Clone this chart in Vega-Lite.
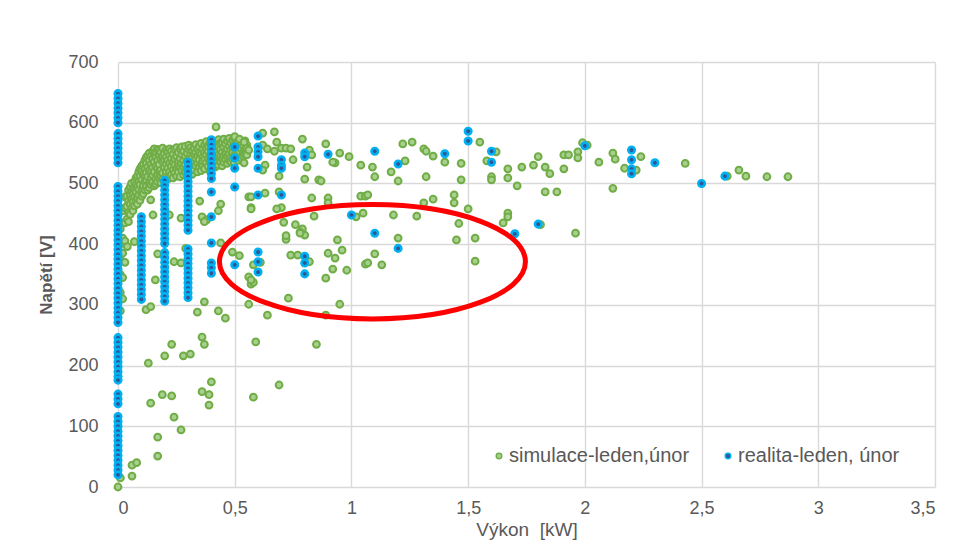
{
  "$schema": "https://vega.github.io/schema/vega-lite/v6.json",
  "width": 817,
  "height": 425,
  "autosize": {"type": "none"},
  "padding": {"left": 118, "top": 62, "right": 23, "bottom": 64},
  "background": "white",
  "config": {
    "view": {"stroke": null},
    "font": "Liberation Sans",
    "axis": {
      "gridColor": "#D9D9D9",
      "gridWidth": 1.4,
      "domain": false,
      "ticks": false,
      "labelColor": "#595959",
      "labelFontSize": 18,
      "labelFont": "Liberation Sans",
      "titleColor": "#595959",
      "titleFontSize": 17,
      "titleFont": "Liberation Sans"
    }
  },
  "datasets": {
    "sim": [
      {"x":0.01,"y":290},{"x":0.01,"y":320},{"x":0.01,"y":350},{"x":0.01,"y":375},{"x":0.01,"y":400},{"x":0.01,"y":425},
      {"x":0.02,"y":310},{"x":0.02,"y":345},{"x":0.02,"y":385},{"x":0.02,"y":410},{"x":0.02,"y":435},{"x":0.02,"y":455},
      {"x":0.03,"y":370},{"x":0.03,"y":405},{"x":0.03,"y":435},{"x":0.03,"y":460},{"x":0.03,"y":478},
      {"x":0.038,"y":441},{"x":0.038,"y":462},{"x":0.038,"y":479},
      {"x":0.045,"y":452},{"x":0.045,"y":437},{"x":0.045,"y":471},{"x":0.045,"y":489},
      {"x":0.052,"y":466},{"x":0.052,"y":481},{"x":0.052,"y":449},{"x":0.052,"y":494},
      {"x":0.058,"y":459},{"x":0.058,"y":487},{"x":0.058,"y":474},{"x":0.058,"y":500},
      {"x":0.064,"y":470},{"x":0.064,"y":492},{"x":0.064,"y":455},{"x":0.064,"y":483},
      {"x":0.071,"y":478},{"x":0.071,"y":503},{"x":0.071,"y":463},{"x":0.071,"y":490},
      {"x":0.077,"y":486},{"x":0.077,"y":471},{"x":0.077,"y":509},{"x":0.077,"y":497},
      {"x":0.083,"y":494},{"x":0.083,"y":477},{"x":0.083,"y":512},{"x":0.083,"y":466},
      {"x":0.089,"y":481},{"x":0.089,"y":503},{"x":0.089,"y":519},{"x":0.089,"y":490},
      {"x":0.094,"y":472},{"x":0.094,"y":498},{"x":0.094,"y":511},{"x":0.094,"y":524},
      {"x":0.102,"y":487},{"x":0.102,"y":479},{"x":0.102,"y":506},{"x":0.102,"y":521},{"x":0.102,"y":529},
      {"x":0.108,"y":496},{"x":0.108,"y":515},{"x":0.108,"y":483},{"x":0.108,"y":532},
      {"x":0.115,"y":503},{"x":0.115,"y":524},{"x":0.115,"y":489},{"x":0.115,"y":538},{"x":0.115,"y":512},
      {"x":0.121,"y":495},{"x":0.121,"y":518},{"x":0.121,"y":533},{"x":0.121,"y":506},{"x":0.121,"y":543},
      {"x":0.127,"y":489},{"x":0.127,"y":527},{"x":0.127,"y":511},{"x":0.127,"y":546},
      {"x":0.134,"y":500},{"x":0.134,"y":538},{"x":0.134,"y":521},{"x":0.134,"y":493},{"x":0.134,"y":550},
      {"x":0.141,"y":509},{"x":0.141,"y":531},{"x":0.141,"y":545},{"x":0.141,"y":498},{"x":0.141,"y":518},
      {"x":0.148,"y":526},{"x":0.148,"y":502},{"x":0.148,"y":541},{"x":0.148,"y":553},{"x":0.148,"y":514},
      {"x":0.155,"y":496},{"x":0.155,"y":519},{"x":0.155,"y":535},{"x":0.155,"y":548},{"x":0.155,"y":557},
      {"x":0.162,"y":507},{"x":0.162,"y":528},{"x":0.162,"y":544},{"x":0.162,"y":499},{"x":0.162,"y":552},
      {"x":0.169,"y":515},{"x":0.169,"y":538},{"x":0.169,"y":503},{"x":0.169,"y":525},{"x":0.169,"y":556},
      {"x":0.176,"y":531},{"x":0.176,"y":509},{"x":0.176,"y":547},{"x":0.176,"y":520},{"x":0.176,"y":554},
      {"x":0.183,"y":501},{"x":0.183,"y":522},{"x":0.183,"y":540},{"x":0.183,"y":551},{"x":0.183,"y":512},
      {"x":0.191,"y":517},{"x":0.191,"y":536},{"x":0.191,"y":507},{"x":0.191,"y":545},{"x":0.191,"y":558},
      {"x":0.198,"y":526},{"x":0.198,"y":504},{"x":0.198,"y":549},{"x":0.198,"y":539},
      {"x":0.206,"y":513},{"x":0.206,"y":532},{"x":0.206,"y":555},{"x":0.206,"y":520},{"x":0.206,"y":543},
      {"x":0.213,"y":507},{"x":0.213,"y":538},{"x":0.213,"y":525},{"x":0.213,"y":552},
      {"x":0.221,"y":519},{"x":0.221,"y":546},{"x":0.221,"y":510},{"x":0.221,"y":533},{"x":0.221,"y":557},
      {"x":0.228,"y":528},{"x":0.228,"y":541},{"x":0.228,"y":514},{"x":0.228,"y":553},
      {"x":0.236,"y":509},{"x":0.236,"y":535},{"x":0.236,"y":548},{"x":0.236,"y":522},
      {"x":0.243,"y":517},{"x":0.243,"y":530},{"x":0.243,"y":556},{"x":0.243,"y":541},
      {"x":0.251,"y":525},{"x":0.251,"y":512},{"x":0.251,"y":545},{"x":0.251,"y":559},
      {"x":0.258,"y":535},{"x":0.258,"y":519},{"x":0.258,"y":551},{"x":0.258,"y":528},
      {"x":0.266,"y":511},{"x":0.266,"y":541},{"x":0.266,"y":557},{"x":0.266,"y":526},
      {"x":0.273,"y":522},{"x":0.273,"y":548},{"x":0.273,"y":533},{"x":0.273,"y":560},
      {"x":0.281,"y":514},{"x":0.281,"y":538},{"x":0.281,"y":553},{"x":0.281,"y":527},
      {"x":0.288,"y":531},{"x":0.288,"y":545},{"x":0.288,"y":519},{"x":0.288,"y":561},
      {"x":0.296,"y":524},{"x":0.296,"y":550},{"x":0.296,"y":537},{"x":0.296,"y":513},
      {"x":0.303,"y":540},{"x":0.303,"y":556},{"x":0.303,"y":518},{"x":0.303,"y":530},{"x":0.303,"y":563},
      {"x":0.311,"y":527},{"x":0.311,"y":547},{"x":0.311,"y":535},{"x":0.311,"y":559},
      {"x":0.318,"y":515},{"x":0.318,"y":543},{"x":0.318,"y":554},{"x":0.318,"y":532},
      {"x":0.326,"y":537},{"x":0.326,"y":522},{"x":0.326,"y":558},{"x":0.326,"y":548},
      {"x":0.333,"y":529},{"x":0.333,"y":551},{"x":0.333,"y":541},{"x":0.333,"y":564},
      {"x":0.341,"y":519},{"x":0.341,"y":545},{"x":0.341,"y":533},{"x":0.341,"y":557},
      {"x":0.348,"y":539},{"x":0.348,"y":527},{"x":0.348,"y":561},{"x":0.348,"y":550},
      {"x":0.356,"y":532},{"x":0.356,"y":548},{"x":0.356,"y":521},{"x":0.356,"y":566},
      {"x":0.363,"y":543},{"x":0.363,"y":556},{"x":0.363,"y":529},{"x":0.363,"y":537},
      {"x":0.371,"y":524},{"x":0.371,"y":551},{"x":0.371,"y":563},{"x":0.371,"y":540},
      {"x":0.378,"y":534},{"x":0.378,"y":547},{"x":0.378,"y":558},{"x":0.378,"y":569},
      {"x":0.386,"y":528},{"x":0.386,"y":553},{"x":0.386,"y":541},{"x":0.386,"y":562},
      {"x":0.393,"y":546},{"x":0.393,"y":521},{"x":0.393,"y":566},{"x":0.393,"y":536},
      {"x":0.401,"y":538},{"x":0.401,"y":555},{"x":0.401,"y":529},{"x":0.401,"y":571},
      {"x":0.408,"y":549},{"x":0.408,"y":533},{"x":0.408,"y":562},{"x":0.408,"y":543},
      {"x":0.416,"y":527},{"x":0.416,"y":545},{"x":0.416,"y":558},{"x":0.416,"y":568},
      {"x":0.423,"y":540},{"x":0.423,"y":553},{"x":0.423,"y":566},{"x":0.423,"y":534},{"x":0.42,"y":593},
      {"x":0.431,"y":547},{"x":0.431,"y":530},{"x":0.431,"y":561},{"x":0.431,"y":572},
      {"x":0.438,"y":536},{"x":0.438,"y":556},{"x":0.438,"y":544},{"x":0.438,"y":566},
      {"x":0.446,"y":551},{"x":0.446,"y":541},{"x":0.446,"y":568},{"x":0.446,"y":529},
      {"x":0.453,"y":545},{"x":0.453,"y":560},{"x":0.453,"y":535},{"x":0.453,"y":573},
      {"x":0.461,"y":553},{"x":0.461,"y":539},{"x":0.461,"y":565},{"x":0.461,"y":548},
      {"x":0.468,"y":533},{"x":0.468,"y":557},{"x":0.468,"y":570},{"x":0.468,"y":545},
      {"x":0.476,"y":548},{"x":0.476,"y":562},{"x":0.476,"y":538},{"x":0.476,"y":574},
      {"x":0.483,"y":555},{"x":0.483,"y":543},{"x":0.483,"y":567},{"x":0.483,"y":536},
      {"x":0.491,"y":540},{"x":0.491,"y":559},{"x":0.491,"y":571},{"x":0.491,"y":550},
      {"x":0.498,"y":546},{"x":0.498,"y":563},{"x":0.498,"y":534},{"x":0.498,"y":575},
      {"x":0.506,"y":552},{"x":0.506,"y":541},{"x":0.506,"y":567},{"x":0.506,"y":560},
      {"x":0.514,"y":538},{"x":0.514,"y":556},{"x":0.514,"y":570},{"x":0.514,"y":548},
      {"x":0.521,"y":545},{"x":0.521,"y":561},{"x":0.521,"y":552},
      {"x":0.529,"y":541},{"x":0.529,"y":566},{"x":0.529,"y":557},
      {"x":0.536,"y":550},{"x":0.536,"y":562},{"x":0.536,"y":545},
      {"x":0.544,"y":556},{"x":0.544,"y":570},{"x":0.544,"y":548},
      {"x":0.552,"y":547},{"x":0.552,"y":563},{"x":0.552,"y":558},
      {"x":0,"y":0},{"x":0.01,"y":15},{"x":0.06,"y":18},{"x":0.06,"y":36},{"x":0.08,"y":40},{"x":0.17,"y":51},{"x":0.17,"y":82},{"x":0.14,"y":138},{"x":0.13,"y":204},{"x":0.19,"y":152},{"x":0.23,"y":150},{"x":0.24,"y":115},{"x":0.27,"y":94},{"x":0.2,"y":216},{"x":0.23,"y":235},{"x":0.28,"y":216},{"x":0.31,"y":219},{"x":0.36,"y":247},{"x":0.37,"y":235},{"x":0.36,"y":157},{"x":0.39,"y":152},{"x":0.39,"y":135},{"x":0.4,"y":173},{"x":0.58,"y":148},{"x":0.59,"y":239},{"x":0.69,"y":168},{"x":0.85,"y":235},
      {"x":0.12,"y":292},{"x":0.14,"y":297},{"x":0.34,"y":288},{"x":0.37,"y":305},{"x":0.43,"y":290},{"x":0.46,"y":278},{"x":0.56,"y":301},{"x":0.64,"y":283},{"x":0.73,"y":311},{"x":0.57,"y":334},{"x":0.58,"y":337},{"x":0.95,"y":301},{"x":0.89,"y":283},
      {"x":0.14,"y":473},{"x":0.15,"y":448},{"x":0.22,"y":448},{"x":0.27,"y":443},{"x":0.35,"y":471},{"x":0.44,"y":466},{"x":0.43,"y":455},{"x":0.36,"y":445},{"x":0.38,"y":440},{"x":0.04,"y":396},{"x":0.07,"y":404},{"x":0.17,"y":384},{"x":0.24,"y":371},{"x":0.27,"y":369},{"x":0.29,"y":393},{"x":0.16,"y":341},{"x":0.37,"y":437},{"x":0.44,"y":402},{"x":0.49,"y":387},{"x":0.52,"y":381},{"x":0.56,"y":346},
      {"x":0.57,"y":460},{"x":0.56,"y":478},{"x":0.63,"y":484},{"x":0.69,"y":486},{"x":0.7,"y":460},{"x":0.68,"y":458},{"x":0.71,"y":436},{"x":0.76,"y":432},{"x":0.79,"y":425},{"x":0.8,"y":415},{"x":0.72,"y":408},{"x":0.74,"y":382},{"x":0.77,"y":382},{"x":0.84,"y":446},{"x":0.86,"y":506},{"x":0.83,"y":476},{"x":0.9,"y":476},{"x":0.9,"y":468},{"x":0.78,"y":420},
      {"x":0.72,"y":414},{"x":0.78,"y":418},{"x":0.94,"y":407},{"x":0.96,"y":390},{"x":0.93,"y":377},{"x":1.06,"y":367},{"x":0.98,"y":357},{"x":0.92,"y":359},{"x":0.89,"y":344},{"x":0.82,"y":371},{"x":0.9,"y":385},{"x":0.58,"y":366},{"x":0.57,"y":341},{"x":0.61,"y":370},
      {"x":0.67,"y":585},{"x":0.79,"y":573},{"x":0.89,"y":565},{"x":0.95,"y":550},{"x":0.99,"y":544},{"x":1.04,"y":530},{"x":0.93,"y":534},{"x":0.92,"y":535},{"x":0.8,"y":507},{"x":0.87,"y":504},{"x":0.69,"y":512},{"x":0.54,"y":534},
      {"x":0.5,"y":577},{"x":0.52,"y":573},{"x":0.54,"y":568},{"x":0.56,"y":555},{"x":0.62,"y":583},{"x":0.62,"y":563},{"x":0.64,"y":557},{"x":0.67,"y":553},{"x":0.68,"y":568},{"x":0.7,"y":558},{"x":0.72,"y":558},{"x":0.74,"y":557},{"x":0.75,"y":539},{"x":0.82,"y":555},{"x":0.83,"y":547},{"x":0.63,"y":530},{"x":0.81,"y":527},{"x":0.62,"y":522},
      {"x":0.57,"y":478},{"x":0.57,"y":458},{"x":1.04,"y":479},{"x":1.06,"y":479},{"x":1.05,"y":451},{"x":1.02,"y":445},
      {"x":1.09,"y":527},{"x":1.1,"y":511},{"x":1.2,"y":504},{"x":1.17,"y":519},{"x":1.22,"y":565},{"x":1.26,"y":568},{"x":1.31,"y":557},{"x":1.35,"y":545},{"x":1.23,"y":537},{"x":1.32,"y":511},{"x":1.4,"y":535},{"x":1.47,"y":533},{"x":1.47,"y":506},{"x":1.55,"y":568},{"x":1.58,"y":537},{"x":1.62,"y":552},{"x":1.6,"y":511},{"x":1.6,"y":506},{"x":1.67,"y":509},{"x":1.67,"y":524},{"x":1.71,"y":496},{"x":1.73,"y":527},{"x":1.78,"y":530},{"x":1.8,"y":544},{"x":1.83,"y":527},{"x":1.85,"y":516},{"x":1.91,"y":524},{"x":1.83,"y":486},{"x":1.88,"y":486},{"x":1.91,"y":547},{"x":1.93,"y":547},{"x":1.97,"y":552},{"x":1.99,"y":567},{"x":1.97,"y":542},{"x":2.06,"y":535},{"x":2.12,"y":550},{"x":2.13,"y":540},{"x":2.12,"y":492},{"x":2.17,"y":525},{"x":2.22,"y":522},{"x":2.24,"y":544},{"x":2.43,"y":533},{"x":2.61,"y":512},{"x":2.66,"y":522},{"x":2.69,"y":512},{"x":2.78,"y":511},{"x":2.87,"y":511},{"x":1.32,"y":553},{"x":2.01,"y":563},
      {"x":1.07,"y":481},{"x":1.18,"y":448},{"x":1.28,"y":446},{"x":1.31,"y":468},{"x":1.35,"y":474},{"x":1.44,"y":481},{"x":1.44,"y":468},{"x":1.46,"y":434},{"x":1.5,"y":458},{"x":1.2,"y":410},{"x":1.1,"y":384},{"x":1.07,"y":369},{"x":1.13,"y":366},{"x":1.45,"y":407},{"x":1.53,"y":410},{"x":1.53,"y":372},{"x":1.65,"y":435},{"x":1.67,"y":451},{"x":1.67,"y":445},{"x":1.96,"y":418},{"x":1.81,"y":432}
    ],
    "real": [
      {"x":0,"y":648},{"x":0,"y":640},{"x":0,"y":632},{"x":0,"y":624},{"x":0,"y":616},{"x":0,"y":608},{"x":0,"y":600},{"x":0,"y":582},{"x":0,"y":574},{"x":0,"y":566},{"x":0,"y":558},{"x":0,"y":550},{"x":0,"y":542},{"x":0,"y":534},{"x":0,"y":495},{"x":0,"y":487},{"x":0,"y":479},{"x":0,"y":471},{"x":0,"y":463},{"x":0,"y":455},{"x":0,"y":447},{"x":0,"y":439},{"x":0,"y":431},{"x":0,"y":423},{"x":0,"y":415},{"x":0,"y":407},{"x":0,"y":399},{"x":0,"y":391},{"x":0,"y":383},{"x":0,"y":375},{"x":0,"y":367},{"x":0,"y":359},{"x":0,"y":351},{"x":0,"y":343},{"x":0,"y":335},{"x":0,"y":327},{"x":0,"y":319},{"x":0,"y":311},{"x":0,"y":303},{"x":0,"y":295},{"x":0,"y":287},{"x":0,"y":279},{"x":0,"y":271},{"x":0,"y":246},{"x":0,"y":238},{"x":0,"y":230},{"x":0,"y":222},{"x":0,"y":214},{"x":0,"y":206},{"x":0,"y":198},{"x":0,"y":190},{"x":0,"y":182},{"x":0,"y":176},{"x":0,"y":153},{"x":0,"y":145},{"x":0,"y":137},{"x":0,"y":116},{"x":0,"y":108},{"x":0,"y":100},{"x":0,"y":92},{"x":0,"y":84},{"x":0,"y":76},{"x":0,"y":68},{"x":0,"y":60},{"x":0,"y":52},{"x":0,"y":44},{"x":0,"y":36},{"x":0,"y":28},{"x":0,"y":20},
      {"x":0.1,"y":445},{"x":0.1,"y":437},{"x":0.1,"y":429},{"x":0.1,"y":421},{"x":0.1,"y":413},{"x":0.1,"y":405},{"x":0.1,"y":397},{"x":0.1,"y":389},{"x":0.1,"y":381},{"x":0.1,"y":373},{"x":0.1,"y":365},{"x":0.1,"y":357},{"x":0.1,"y":349},{"x":0.1,"y":341},{"x":0.1,"y":333},{"x":0.1,"y":325},{"x":0.1,"y":317},{"x":0.1,"y":309},
      {"x":0.2,"y":505},{"x":0.2,"y":497},{"x":0.2,"y":489},{"x":0.2,"y":481},{"x":0.2,"y":473},{"x":0.2,"y":465},{"x":0.2,"y":457},{"x":0.2,"y":449},{"x":0.2,"y":441},{"x":0.2,"y":433},{"x":0.2,"y":425},{"x":0.2,"y":417},{"x":0.2,"y":409},{"x":0.2,"y":401},{"x":0.2,"y":386},{"x":0.2,"y":378},{"x":0.2,"y":370},{"x":0.2,"y":362},{"x":0.2,"y":354},{"x":0.2,"y":346},{"x":0.2,"y":338},{"x":0.2,"y":330},{"x":0.2,"y":322},{"x":0.2,"y":314},{"x":0.2,"y":306},
      {"x":0.3,"y":535},{"x":0.3,"y":527},{"x":0.3,"y":519},{"x":0.3,"y":511},{"x":0.3,"y":503},{"x":0.3,"y":495},{"x":0.3,"y":487},{"x":0.3,"y":479},{"x":0.3,"y":471},{"x":0.3,"y":463},{"x":0.3,"y":455},{"x":0.3,"y":447},{"x":0.3,"y":439},{"x":0.3,"y":431},{"x":0.3,"y":423},{"x":0.3,"y":392},{"x":0.3,"y":384},{"x":0.3,"y":376},{"x":0.3,"y":368},{"x":0.3,"y":360},{"x":0.3,"y":352},{"x":0.3,"y":344},{"x":0.3,"y":336},{"x":0.3,"y":328},{"x":0.3,"y":320},{"x":0.3,"y":312},
      {"x":0.4,"y":572},{"x":0.4,"y":564},{"x":0.4,"y":556},{"x":0.4,"y":548},{"x":0.4,"y":540},{"x":0.4,"y":532},{"x":0.4,"y":524},{"x":0.4,"y":516},{"x":0.4,"y":508},{"x":0.4,"y":486},{"x":0.4,"y":445},{"x":0.4,"y":402},{"x":0.4,"y":369},{"x":0.4,"y":361},{"x":0.4,"y":352},
      {"x":0.5,"y":560},{"x":0.5,"y":542},{"x":0.5,"y":525},{"x":0.5,"y":494},{"x":0.5,"y":366},
      {"x":0.6,"y":578},{"x":0.6,"y":560},{"x":0.6,"y":552},{"x":0.6,"y":544},{"x":0.6,"y":525},{"x":0.6,"y":481},{"x":0.6,"y":387},{"x":0.6,"y":371},{"x":0.6,"y":354},
      {"x":0.7,"y":539},{"x":0.7,"y":530},{"x":0.7,"y":525},{"x":0.7,"y":481},
      {"x":0.8,"y":550},{"x":0.8,"y":544},{"x":0.8,"y":380},{"x":0.8,"y":369},{"x":0.8,"y":351},
      {"x":0.9,"y":548},{"x":1.0,"y":448},{"x":1.1,"y":553},{"x":1.1,"y":418},{"x":1.2,"y":532},{"x":1.2,"y":393},{"x":1.4,"y":549},{"x":1.5,"y":586},{"x":1.5,"y":570},{"x":1.6,"y":553},{"x":1.6,"y":535},{"x":1.7,"y":417},{"x":1.8,"y":433},{"x":2.0,"y":562},{"x":2.2,"y":555},{"x":2.2,"y":539},{"x":2.2,"y":524},{"x":2.2,"y":516},{"x":2.3,"y":534},{"x":2.5,"y":500},{"x":2.6,"y":512}
    ],
    "ellipse": [{"x": 1.09, "y": 371}]
  },
  "encoding": {
    "x": {
      "field": "x", "type": "quantitative",
      "scale": {"domain": [0, 3.5], "nice": false, "zero": false},
      "axis": {
        "values": [0, 0.5, 1, 1.5, 2, 2.5, 3, 3.5],
        "labelExpr": "replace(format(datum.value, '.1~f'), '.', ',')",
        "labelPadding": 12,
        "title": "Výkon\u00a0\u00a0[kW]",
        "titleFontWeight": "normal",
        "titleFontSize": 19,
        "titlePadding": 3
      }
    },
    "y": {
      "field": "y", "type": "quantitative",
      "scale": {"domain": [0, 700], "nice": false},
      "axis": {
        "values": [0, 100, 200, 300, 400, 500, 600, 700],
        "labelPadding": 20,
        "title": "Napětí [V]",
        "titleFontWeight": "bold",
        "titlePadding": 12
      }
    }
  },
  "layer": [
    {
      "data": {"name": "sim"},
      "mark": {"type": "point", "filled": true, "size": 46, "strokeWidth": 2, "opacity": 1},
      "encoding": {
        "fill": {
          "datum": "simulace-leden,únor",
          "type": "nominal",
          "scale": {"domain": ["simulace-leden,únor", "realita-leden, únor"], "range": ["#A9D08E", "#2F5597"]},
          "legend": {
            "title": null,
            "orient": "none",
            "legendX": 371,
            "legendY": 384,
            "direction": "horizontal",
            "symbolType": "circle",
            "symbolSize": 30,
            "symbolStrokeWidth": 1.5,
            "labelFontSize": 20,
            "labelLimit": 400,
            "labelColor": "#595959",
            "labelFont": "Liberation Sans",
            "columnPadding": 28,
            "labelOffset": 0
          }
        },
        "stroke": {
          "datum": "simulace-leden,únor",
          "type": "nominal",
          "scale": {"domain": ["simulace-leden,únor", "realita-leden, únor"], "range": ["#70AD47", "#00B0F0"]}
        }
      }
    },
    {
      "data": {"name": "real"},
      "mark": {"type": "point", "filled": true, "size": 42, "strokeWidth": 2.6, "opacity": 1},
      "encoding": {
        "fill": {"datum": "realita-leden, únor", "type": "nominal"},
        "stroke": {"datum": "realita-leden, únor", "type": "nominal"}
      }
    },
    {
      "data": {"name": "ellipse"},
      "mark": {
        "type": "point",
        "shape": "M -1 0 A 1 0.374 0 1 0 1 0 A 1 0.374 0 1 0 -1 0 Z",
        "size": 93636,
        "filled": false,
        "stroke": "#FF0000",
        "strokeWidth": 5,
        "opacity": 1
      }
    }
  ]
}
